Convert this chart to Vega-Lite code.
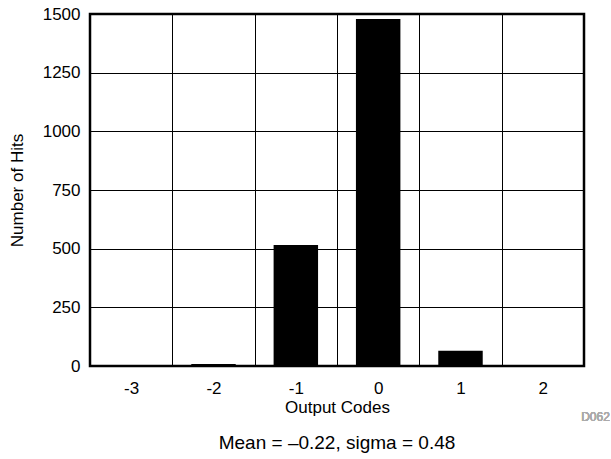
{
  "$schema": "https://vega.github.io/schema/vega-lite/v6.json",
  "width": 494,
  "height": 352,
  "autosize": {"type": "none"},
  "padding": {"left": 90, "top": 14, "right": 27, "bottom": 93},
  "background": "white",
  "config": {
    "font": "Liberation Sans",
    "view": {"stroke": "black", "strokeWidth": 2.5}
  },
  "title": {
    "text": "Mean = –0.22, sigma = 0.48",
    "orient": "bottom",
    "anchor": "middle",
    "fontSize": 19,
    "fontWeight": "normal",
    "color": "black",
    "offset": 11
  },
  "data": {
    "values": [
      {"code": "-3", "hits": 2},
      {"code": "-2", "hits": 8},
      {"code": "-1", "hits": 516},
      {"code": "0", "hits": 1479},
      {"code": "1", "hits": 65},
      {"code": "2", "hits": 1}
    ]
  },
  "layer": [
    {
      "mark": {"type": "bar", "color": "black", "width": {"band": 0.54}},
      "encoding": {
        "x": {
          "field": "code",
          "type": "ordinal",
          "sort": null,
          "scale": {"paddingInner": 0, "paddingOuter": 0},
          "axis": {
            "grid": true,
            "gridColor": "black",
            "gridWidth": 1,
            "gridOpacity": 1,
            "tickBand": "extent",
            "ticks": false,
            "domain": false,
            "labelAngle": 0,
            "labelFontSize": 17,
            "labelColor": "black",
            "labelPadding": 14,
            "title": "Output Codes",
            "titleFontSize": 17,
            "titleFontWeight": "normal",
            "titleColor": "black",
            "titlePadding": 3
          }
        },
        "y": {
          "field": "hits",
          "type": "quantitative",
          "scale": {"domain": [0, 1500], "nice": false},
          "axis": {
            "values": [0, 250, 500, 750, 1000, 1250, 1500],
            "format": "d",
            "grid": true,
            "gridColor": "black",
            "gridWidth": 1,
            "gridOpacity": 1,
            "ticks": false,
            "domain": false,
            "labelFontSize": 17,
            "labelColor": "black",
            "labelPadding": 10,
            "title": "Number of Hits",
            "titleFontSize": 17,
            "titleFontWeight": "normal",
            "titleColor": "black",
            "titlePadding": 16
          }
        }
      }
    },
    {
      "mark": {"type": "text", "text": "D062", "align": "right", "baseline": "middle", "color": "#aaaaaa", "fontSize": 12, "dx": 67},
      "encoding": {
        "x": {"datum": "2"},
        "y": {"datum": -217}
      }
    }
  ]
}
